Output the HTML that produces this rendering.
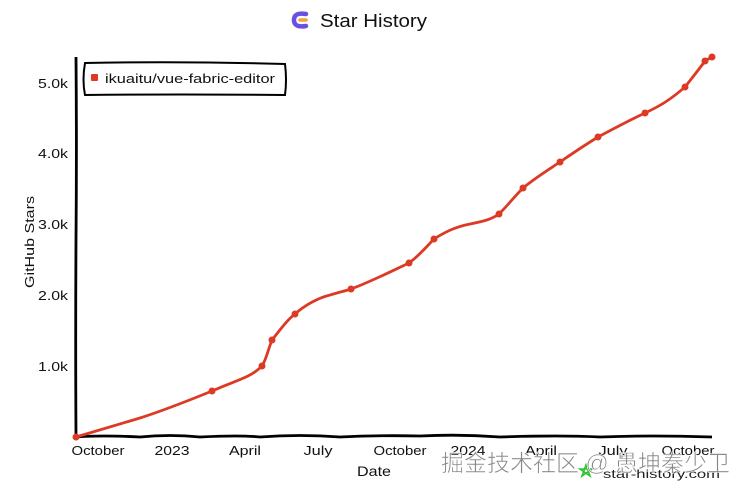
<!DOCTYPE html>
<html><head><meta charset="utf-8"><style>
html,body{margin:0;padding:0;background:#fff;}
svg{display:block;}
text{font-family:"Liberation Sans","Noto Sans CJK SC",sans-serif;}
</style></head><body>
<svg width="747" height="491" viewBox="0 0 747 491" xmlns="http://www.w3.org/2000/svg">
<rect width="747" height="491" fill="#fff"/>
<!-- title -->
<g>
<path d="M306,14 Q294,12 294,20 Q294,28 306,26" fill="none" stroke="#6b4fe0" stroke-width="4.5" stroke-linecap="round"/>
<line x1="300" y1="20" x2="306" y2="20" stroke="#f2a33a" stroke-width="3.5" stroke-linecap="round"/>
<text x="320" y="27" font-size="18" fill="#111" textLength="107" lengthAdjust="spacingAndGlyphs">Star History</text>
</g>
<!-- axes -->
<path d="M76,57 Q76.8,150 76,240 Q75.4,340 76,437" fill="none" stroke="#000" stroke-width="2.8" stroke-linejoin="round"/>
<path d="M76,437 Q100,435 140,437 Q170,434 200,437 Q240,435 260,437 Q300,434 340,437 Q380,435 420,436 Q460,434 500,437 Q560,435 600,437 Q650,435 712,437" fill="none" stroke="#000" stroke-width="2.8"/>
<!-- y tick labels -->
<g font-size="13" fill="#111" text-anchor="end">
<text x="68" y="88" textLength="30" lengthAdjust="spacingAndGlyphs">5.0k</text>
<text x="68" y="158" textLength="30" lengthAdjust="spacingAndGlyphs">4.0k</text>
<text x="68" y="229" textLength="30" lengthAdjust="spacingAndGlyphs">3.0k</text>
<text x="68" y="300" textLength="30" lengthAdjust="spacingAndGlyphs">2.0k</text>
<text x="68" y="371" textLength="30" lengthAdjust="spacingAndGlyphs">1.0k</text>
</g>
<text transform="translate(34,242) rotate(-90)" font-size="13" fill="#111" text-anchor="middle" textLength="92" lengthAdjust="spacingAndGlyphs">GitHub Stars</text>
<!-- x tick labels -->
<g font-size="13" fill="#111" text-anchor="middle">
<text x="98" y="455" textLength="53" lengthAdjust="spacingAndGlyphs">October</text>
<text x="172" y="455" textLength="35" lengthAdjust="spacingAndGlyphs">2023</text>
<text x="245" y="455" textLength="32" lengthAdjust="spacingAndGlyphs">April</text>
<text x="318" y="455" textLength="29" lengthAdjust="spacingAndGlyphs">July</text>
<text x="400" y="455" textLength="53" lengthAdjust="spacingAndGlyphs">October</text>
<text x="468" y="455" textLength="35" lengthAdjust="spacingAndGlyphs">2024</text>
<text x="541" y="455" textLength="32" lengthAdjust="spacingAndGlyphs">April</text>
<text x="613" y="455" textLength="29" lengthAdjust="spacingAndGlyphs">July</text>
<text x="688" y="455" textLength="53" lengthAdjust="spacingAndGlyphs">October</text>
</g>
<text x="374" y="476" font-size="14" fill="#111" text-anchor="middle" textLength="34" lengthAdjust="spacingAndGlyphs">Date</text>
<!-- legend -->
<path d="M85,63 Q180,61 285,64 Q287,80 285,95 Q180,94 85,95 Q82,80 85,63 Z" fill="#fff" stroke="#000" stroke-width="2"/>
<rect x="91" y="74" width="7" height="7" fill="#dd3a26" rx="1"/>
<text x="105" y="83" font-size="13" fill="#111" textLength="170" lengthAdjust="spacingAndGlyphs">ikuaitu/vue-fabric-editor</text>
<!-- series -->
<path d="M76,437 C100,430 120,424 140,418 C165,410 190,400 212,391 C228,384 240,380 248,376 C256,372 260,368 262,366 C266,360 268,350 272,340 C280,330 287,320 295,314 C305,305 318,298 330,295 C340,292 345,291 351,289 C370,282 390,272 409,263 C420,255 428,245 434,239 C445,232 455,227 470,224 C485,221 492,219 499,214 C508,205 515,196 523,188 C535,178 548,170 560,162 C573,153 585,145 598,137 C613,129 630,120 645,113 C660,106 670,100 685,87 C692,78 700,68 705,61 C708,59 710,58 712,57" fill="none" stroke="#dd3a26" stroke-width="2.8" stroke-linecap="round"/>
<g fill="#dd3a26">
<circle cx="76" cy="437" r="3.5"/>
<circle cx="212" cy="391" r="3.5"/>
<circle cx="262" cy="366" r="3.5"/>
<circle cx="272" cy="340" r="3.5"/>
<circle cx="295" cy="314" r="3.5"/>
<circle cx="351" cy="289" r="3.5"/>
<circle cx="409" cy="263" r="3.5"/>
<circle cx="434" cy="239" r="3.5"/>
<circle cx="499" cy="214" r="3.5"/>
<circle cx="523" cy="188" r="3.5"/>
<circle cx="560" cy="162" r="3.5"/>
<circle cx="598" cy="137" r="3.5"/>
<circle cx="645" cy="113" r="3.5"/>
<circle cx="685" cy="87" r="3.5"/>
<circle cx="705" cy="61" r="3.5"/>
<circle cx="712" cy="57" r="3.5"/>
</g>
<!-- star-history.com -->
<path d="M586,465 L590,476 L580,469 L592,469 L582,476 Z" fill="none" stroke="#2fc22f" stroke-width="1.6"/>
<text x="603" y="478" font-size="12" fill="#222" textLength="117" lengthAdjust="spacingAndGlyphs">star-history.com</text>
<!-- watermark -->
<text x="441" y="471" font-size="23" fill="#888" stroke="#fff" stroke-width="0.6" textLength="289" lengthAdjust="spacingAndGlyphs">掘金技术社区 @ 愚坤秦少卫</text>
</svg>
</body></html>
